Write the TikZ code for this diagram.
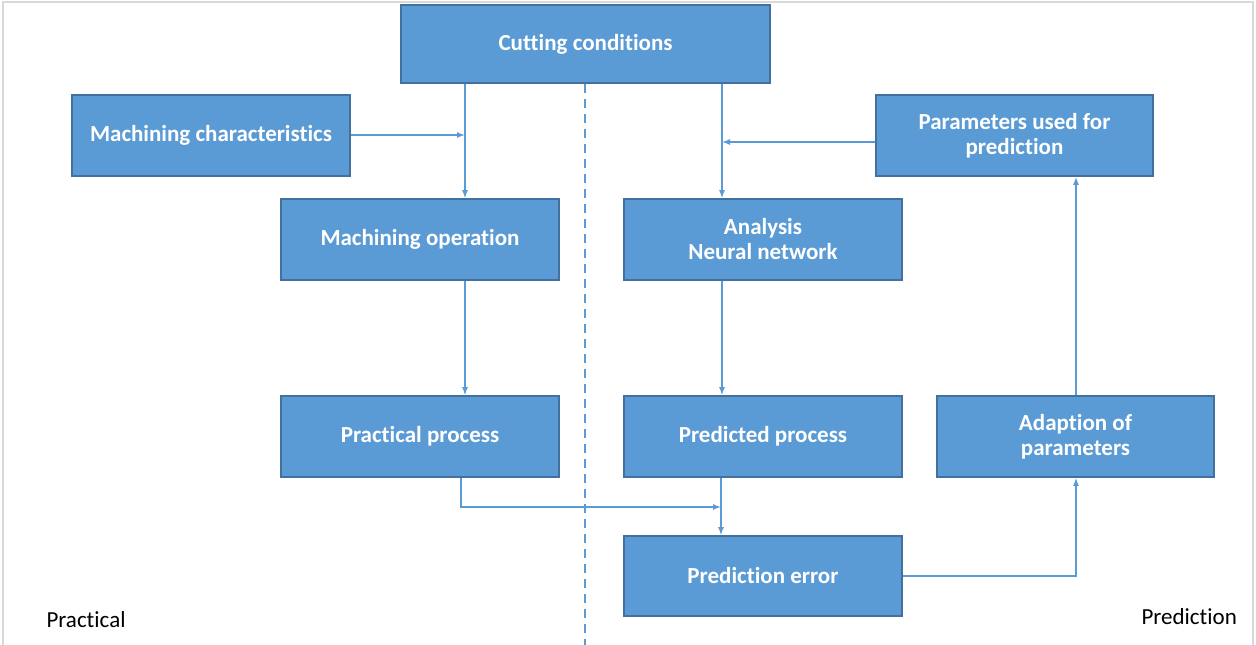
\documentclass[tikz,border=0pt]{standalone}
\usepackage{fontspec}
\setmainfont{Carlito}[Ligatures={NoCommon}]
\usetikzlibrary{arrows.meta}
\definecolor{boxfill}{HTML}{5B9BD5}
\definecolor{boxline}{HTML}{41719C}
\definecolor{framegray}{HTML}{D9D9D9}
\tikzset{
  flowbox/.style={draw=boxline, line width=1.6pt, fill=boxfill, text=white,
    font=\fontsize{23}{25}\selectfont\bfseries, align=center, inner sep=0pt},
  link/.style={draw=boxfill, line width=1.4pt, -{Latex[length=8pt,width=6pt]}},
  side/.style={font=\fontsize{23}{25}\selectfont, text=black, anchor=base west}
}
\begin{document}
\begin{tikzpicture}[x=1pt,y=-1pt]
\useasboundingbox (0,0) rectangle (1256,645);
% outer frame
\draw[framegray, line width=2pt] (3,645) -- (3,2) -- (1253,2) -- (1253,645);
% divider between the two halves
\draw[boxfill, line width=2pt, dash pattern=on 9pt off 6pt] (585,84) -- (585,645);
% boxes
\node[flowbox, minimum width=369pt, minimum height=78pt] (cut) at (585.5,44) {Cutting conditions};
\node[flowbox, minimum width=278pt, minimum height=81pt] (mch) at (211,135.5) {Machining characteristics};
\node[flowbox, minimum width=277pt, minimum height=81pt] (par) at (1014.5,135.5) {Parameters used for\\prediction};
\node[flowbox, minimum width=278pt, minimum height=81pt] (mop) at (420,239.5) {Machining operation};
\node[flowbox, minimum width=278pt, minimum height=81pt] (ann) at (763,239.5) {Analysis\\Neural network};
\node[flowbox, minimum width=278pt, minimum height=81pt] (prc) at (420,436.5) {Practical process};
\node[flowbox, minimum width=278pt, minimum height=81pt] (pdp) at (763,436.5) {Predicted process};
\node[flowbox, minimum width=277pt, minimum height=81pt] (adp) at (1075.5,436.5) {Adaption of\\parameters};
\node[flowbox, minimum width=278pt, minimum height=80pt] (err) at (763,576) {Prediction error};
% side labels
\node[side] (lp) at (43,627) {Practical};
\node[side] (lq) at (1138,624) {Prediction};
% junction points
\coordinate (j1) at (465,135);
\coordinate (j2) at (722,142);
\coordinate (j3) at (721,507);
\coordinate (j4) at (1076,576);
% connectors
\draw[link] (cut.south -| j1) -- (mop.north -| j1);
\draw[link] (mch.east |- j1) -- (j1);
\draw[link] (cut.south -| j2) -- (ann.north -| j2);
\draw[link] (par.west |- j2) -- (j2);
\draw[link] (mop.south -| j1) -- (prc.north -| j1);
\draw[link] (ann.south -| j2) -- (pdp.north -| j2);
\draw[link] (prc.south -| 461,0) -- (461,507) -- (j3);
\draw[link] (pdp.south -| j3) -- (err.north -| j3);
\draw[link] (err.east) -- (j4) -- (adp.south -| j4);
\draw[link] (adp.north -| j4) -- (par.south -| j4);
\end{tikzpicture}
\end{document}
